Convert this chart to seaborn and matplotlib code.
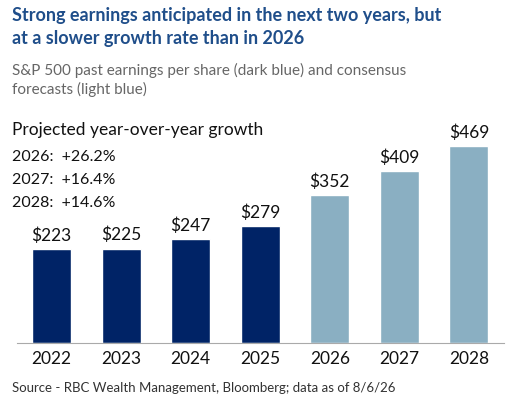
import matplotlib
matplotlib.use("Agg")
import matplotlib.pyplot as plt
import seaborn as sns
import pandas as pd

years = ["2022", "2023", "2024", "2025", "2026", "2027", "2028"]
eps = [223, 225, 247, 279, 352, 409, 469]
kind = ["past", "past", "past", "past", "forecast", "forecast", "forecast"]
labels = ["$223", "$225", "$247", "$279", "$352", "$409", "$469"]
growth = ["2026:  +26.2%", "2027:  +16.4%", "2028:  +14.6%"]

sns.set_style("white")
plt.rcParams['font.family'] = ['Lato', 'DejaVu Sans']

df = pd.DataFrame({"year": years, "eps": eps, "kind": kind})
fig = plt.figure(figsize=(5.22, 4.15), dpi=100)
ax = fig.add_axes([16.7/522, 1-343/415, 487/522, 228/415])
sns.barplot(data=df, x="year", y="eps", hue="kind",
            palette={"past": "#002366", "forecast": "#8aafc2"},
            dodge=False, width=0.56, legend=False, ax=ax, saturation=1)
for i, (v, l) in enumerate(zip(eps, labels)):
    ax.text(i, v + 12, l, ha="center", va="bottom", fontsize=12.5, color="#111111")
ax.set_ylim(0, 543)
ax.set_xlim(-0.5, 6.5)
ax.set_yticks([])
ax.set_xlabel(""); ax.set_ylabel("")
for s in ["top", "right", "left"]:
    ax.spines[s].set_visible(False)
ax.spines["bottom"].set_color("#aaaaaa")
ax.tick_params(axis="x", length=0, labelsize=12.5, pad=6, colors="#111111")

fig.text(12/522, 1-27/415, "Strong earnings anticipated in the next two years, but\nat a slower growth rate than in 2026",
         fontsize=13, color="#1f4e8a", va="center", linespacing=1.45, fontweight="bold")
fig.text(12/522, 1-80/415, "S&P 500 past earnings per share (dark blue) and consensus\nforecasts (light blue)",
         fontsize=11, color="#666666", va="center", linespacing=1.4)
fig.text(12/522, 1-130/415, "Projected year-over-year growth", fontsize=12.5, color="#111111", va="center")
for k, g in enumerate(growth):
    fig.text(12/522, 1-(157+23*k)/415, g, fontsize=11.5, color="#111111", va="center")
fig.text(12/522, 1-388/415, "Source - RBC Wealth Management, Bloomberg; data as of 8/6/26",
         fontsize=9.5, color="#333333", va="center")
fig.savefig("out.png", dpi=100)
